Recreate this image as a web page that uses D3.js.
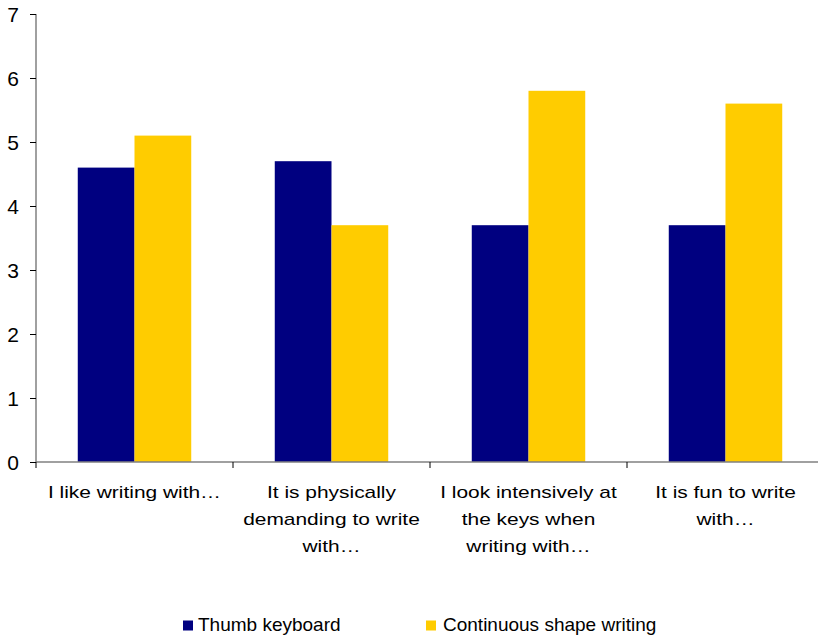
<!DOCTYPE html>
<html>
<head>
<meta charset="utf-8">
<script src="https://cdn.jsdelivr.net/npm/d3@7"></script>
<style>
  html, body { margin: 0; padding: 0; background: #fff; }
  svg { display: block; font-family: Arial, "Liberation Sans", sans-serif; }
</style>
</head>
<body>
<svg id="chart" width="818" height="636"></svg>
<script>
// Survey statements (wrapped into lines) and mean ratings per input method
const categoryLines = [
  ["I like writing with…"],
  ["It is physically", "demanding to write", "with…"],
  ["I look intensively at", "the keys when", "writing with…"],
  ["It is fun to write", "with…"]
];
const seriesNames = ["Thumb keyboard", "Continuous shape writing"];
const thumbKeyboard = [4.6, 4.7, 3.7, 3.7];
const shapeWriting = [5.1, 3.7, 5.8, 5.6];
const yTicks = [0, 1, 2, 3, 4, 5, 6, 7];
const colors = ["#000080", "#FFCC00"];

const svg = d3.select("#chart");
const x0 = 36, x1 = 824, yTop = 14, yBottom = 462;

const categories = categoryLines.map((d, i) => i);
const x = d3.scaleBand().domain(categories).range([x0, x1]).paddingInner(0).paddingOuter(0);
const y = d3.scaleLinear().domain([0, 7]).range([yBottom, yTop]);

// Bars: two series side by side, centred in each category band
const barW = x.bandwidth() * 0.288;
const series = [thumbKeyboard, shapeWriting];
series.forEach((vals, s) => {
  svg.append("g").selectAll("rect").data(vals).join("rect")
    .attr("x", (d, i) => x(i) + x.bandwidth() / 2 - barW + s * barW)
    .attr("y", d => y(d))
    .attr("width", barW)
    .attr("height", d => y(0) - y(d))
    .attr("fill", colors[s]);
});

// Y axis
const yAxis = d3.axisLeft(y).tickValues(yTicks).tickSize(6).tickPadding(11).tickFormat(d3.format("d"));
const gy = svg.append("g").attr("transform", `translate(${x0},0)`).call(yAxis);
gy.select(".domain").attr("stroke", "#808080").attr("stroke-width", 1.5).attr("d", `M0,${yTop}V${yBottom}`);
gy.selectAll(".tick line").attr("stroke", "#000").attr("stroke-width", 1);
gy.selectAll(".tick text").attr("font-size", 21).attr("fill", "#000").attr("dy", "0.36em");

// X axis: category boundaries as ticks
const xAxisLine = svg.append("g");
xAxisLine.append("line").attr("x1", x0).attr("x2", x1).attr("y1", yBottom).attr("y2", yBottom)
  .attr("stroke", "#808080").attr("stroke-width", 1.5);
xAxisLine.selectAll("line.tk").data(categories.concat([categories.length])).join("line")
  .attr("class", "tk")
  .attr("x1", i => i < categories.length ? x(i) : x1)
  .attr("x2", i => i < categories.length ? x(i) : x1)
  .attr("y1", yBottom).attr("y2", yBottom + 6)
  .attr("stroke", "#000");

// Category labels (slightly wide lettering)
const lab = svg.append("g").selectAll("text").data(categoryLines).join("text")
  .attr("text-anchor", "middle")
  .attr("font-size", 17)
  .attr("fill", "#000")
  .attr("transform", (d, i) => `translate(${x(i) + x.bandwidth() / 2},0) scale(1.23,1)`);
lab.each(function(lines) {
  d3.select(this).selectAll("tspan").data(lines).join("tspan")
    .attr("x", 0)
    .attr("y", (d, j) => 498 + j * 27)
    .text(d => d);
});

// Legend
const legendX = [183, 426];
const lg = svg.append("g").selectAll("g").data(seriesNames).join("g")
  .attr("transform", (d, i) => `translate(${legendX[i]},620.5)`);
lg.append("rect").attr("width", 10).attr("height", 10).attr("fill", (d, i) => colors[i]);
lg.append("text").attr("x", (d, i) => i === 0 ? 15 : 17).attr("y", 10.5).attr("font-size", 19).attr("fill", "#000").text(d => d);
</script>
</body>
</html>
